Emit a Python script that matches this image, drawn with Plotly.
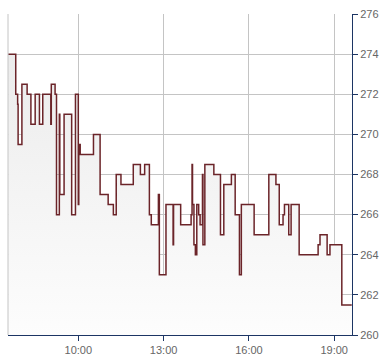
import plotly.graph_objects as go

DAY = "2024-01-02 "

times = ["07:32", "07:48", "07:52", "07:53", "08:01", "08:12", "08:20", "08:29", "08:38", "08:45",
         "09:02", "09:03", "09:11", "09:14", "09:20", "09:21", "09:30", "09:46", "09:54", "10:00",
         "10:01", "10:04", "10:32", "10:46", "11:03", "11:14", "11:20", "11:30", "11:56", "12:11",
         "12:20", "12:30", "12:34", "12:49", "12:51", "13:05", "13:20", "13:21", "13:36", "13:58",
         "14:00", "14:01", "14:04", "14:07", "14:10", "14:14", "14:17", "14:22", "14:23", "14:27",
         "14:46", "15:00", "15:07", "15:23", "15:31", "15:40", "15:44", "16:11", "16:42", "16:57",
         "17:04", "17:12", "17:15", "17:24", "17:29", "17:46", "18:26", "18:30", "18:45", "18:51",
         "19:16", "19:37"]

prices = [274, 272, 271.5, 269.5, 272.5, 272, 270.5, 272, 270.5, 272,
          270.5, 272.5, 272, 266, 271, 267, 271, 266, 272, 266.5,
          269.5, 269, 270, 267, 266.5, 266, 268, 267.5, 268.5, 268,
          268.5, 266, 265.5, 267, 263, 266.5, 264.5, 266.5, 265.5, 266,
          268.5, 266.5, 264.5, 264, 266.5, 266, 265.5, 268, 264.5, 268.5,
          268, 265, 267.5, 268, 266, 263, 266.5, 265, 268, 267.5,
          265.5, 266, 266.5, 265, 266.5, 264, 264.5, 265, 264, 264.5,
          261.5, 261.5]

x_tick_times = ["10:00", "13:00", "16:00", "19:00"]
y_ticks = [260, 262, 264, 266, 268, 270, 272, 274, 276]
x_start, x_end = "07:31:40", "19:37:30"

x = [DAY + t for t in times]

fig = go.Figure()
fig.add_trace(go.Scatter(
    x=x, y=prices, mode="lines",
    line=dict(shape="hv", color="#6b2429", width=1.5),
    fill="tozeroy",
    fillgradient=dict(type="vertical", start=260, stop=276,
                      colorscale=[[0, "#fdfdfd"], [1, "#e9e9e9"]]),
    hoverinfo="skip",
))

axis_blue = "#1c3564"
font = dict(family="Liberation Sans, Arial, sans-serif", size=11, color="#666666")

fig.update_layout(
    width=390, height=364,
    margin=dict(l=8, r=38, t=12, b=26),
    paper_bgcolor="white", plot_bgcolor="white",
    showlegend=False,
    font=font,
    xaxis=dict(
        type="date",
        range=[DAY + x_start, DAY + x_end],
        tickvals=[DAY + t for t in x_tick_times],
        ticktext=x_tick_times,
        showgrid=True, gridcolor="#c4c4c4", gridwidth=1,
        showline=True, linecolor=axis_blue, linewidth=1,
        ticks="outside", ticklen=5, tickcolor=axis_blue,
        zeroline=False, fixedrange=True,
    ),
    yaxis=dict(
        side="right",
        range=[260, 276],
        tickvals=y_ticks,
        showgrid=True, gridcolor="#c4c4c4", gridwidth=1,
        showline=True, linecolor=axis_blue, linewidth=1,
        ticks="outside", ticklen=5, tickcolor=axis_blue,
        zeroline=False, fixedrange=True,
    ),
    shapes=[dict(type="line", xref="paper", yref="paper", x0=0, x1=0, y0=0, y1=1,
                 line=dict(color="#c4c4c4", width=1))],
)

fig.write_html("out.html", config={"displayModeBar": False})
